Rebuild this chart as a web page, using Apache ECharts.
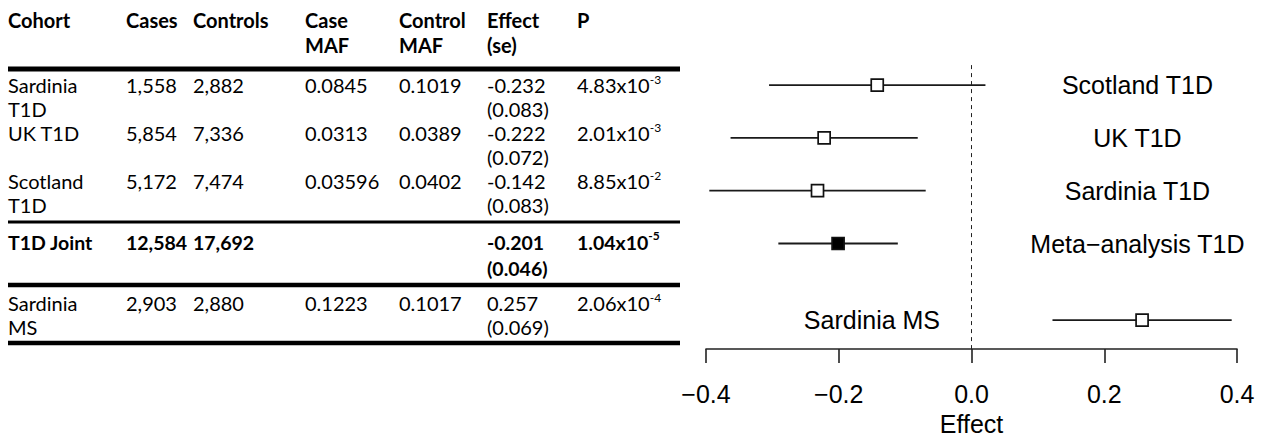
<!DOCTYPE html>
<html>
<head>
<meta charset="utf-8">
<script src="https://cdn.jsdelivr.net/npm/echarts@6/dist/echarts.min.js"></script>
<style>
html,body{margin:0;padding:0;background:#fff;}
#chart{width:1275px;height:441px;}
</style>
</head>
<body>
<div id="chart"></div>
<script>
// ---------- table data ----------
const tableHeader = ['Cohort', 'Cases', 'Controls', 'Case\nMAF', 'Control\nMAF', 'Effect\n(se)', 'P'];
const tableCohort = ['Sardinia\nT1D', 'UK T1D', 'Scotland\nT1D', 'T1D Joint', 'Sardinia\nMS'];
const tableCases = ['1,558', '5,854', '5,172', '12,584', '2,903'];
const tableControls = ['2,882', '7,336', '7,474', '17,692', '2,880'];
const tableCaseMAF = ['0.0845', '0.0313', '0.03596', '', '0.1223'];
const tableControlMAF = ['0.1019', '0.0389', '0.0402', '', '0.1017'];
const tableEffect = [-0.232, -0.222, -0.142, -0.201, 0.257];
const tableSE = [0.083, 0.072, 0.083, 0.046, 0.069];
const tablePMantissa = ['4.83', '2.01', '8.85', '1.04', '2.06'];
const tablePExponent = ['-3', '-3', '-2', '-5', '-4'];
const tableBold = [false, false, false, true, false];

// ---------- forest plot data ----------
const forestLabels = ['Scotland T1D', 'UK T1D', 'Sardinia T1D', 'Meta\u2212analysis T1D', 'Sardinia MS'];
const forestEffect = [-0.142, -0.222, -0.232, -0.201, 0.257];
const forestLower = [-0.305, -0.363, -0.395, -0.291, 0.122];
const forestUpper = [0.021, -0.081, -0.069, -0.111, 0.392];
const forestFilled = [0, 0, 0, 1, 0];
const forestRow = [5, 4, 3, 2, 0.55];
const forestLabelX = [0.25, 0.25, 0.25, 0.25, -0.15];
const xTicks = [-0.4, -0.2, 0.0, 0.2, 0.4];

// ---------- table drawing (graphic text) ----------
const TF = 'Lato, "Open Sans", sans-serif';
const FS = 20;
const colX = [8, 126, 193, 305, 399, 487, 577];
const rowTop = [73, 121, 169, 229, 291];
const rules = [[69, 5], [222, 3], [285, 4.5], [343, 4.5]];
const graphics = [];

tableHeader.forEach((h, i) => {
  graphics.push({type: 'text', x: colX[i], y: 7, style: {text: h, fill: '#000', font: 'bold ' + FS + 'px ' + TF, lineHeight: 25, verticalAlign: 'top'}});
});
rules.forEach(r => {
  graphics.push({type: 'line', shape: {x1: 8, y1: r[0], x2: 680, y2: r[0]}, style: {stroke: '#000', lineWidth: r[1]}});
});
for (let i = 0; i < tableCohort.length; i++) {
  const bold = tableBold[i];
  const w = bold ? 'bold ' : '';
  const fs = bold ? 19.5 : FS;
  const lh = bold ? 26 : 24;
  const cells = [
    tableCohort[i], tableCases[i], tableControls[i], tableCaseMAF[i], tableControlMAF[i],
    tableEffect[i].toFixed(3) + '\n(' + tableSE[i].toFixed(3) + ')'
  ];
  cells.forEach((c, j) => {
    if (!c) return;
    graphics.push({type: 'text', x: colX[j], y: rowTop[i], style: {text: c, fill: '#000', font: w + fs + 'px ' + TF, lineHeight: lh, verticalAlign: 'top'}});
  });
  graphics.push({type: 'text', x: colX[6], y: rowTop[i], style: {
    text: '{m|' + tablePMantissa[i] + 'x10}{s|' + tablePExponent[i] + '}',
    verticalAlign: 'top',
    rich: {
      m: {fill: '#000', fontSize: fs, fontFamily: 'Lato', fontWeight: bold ? 'bold' : 'normal', lineHeight: lh},
      s: {fill: '#000', fontSize: 12, fontFamily: 'Lato', fontWeight: bold ? 'bold' : 'normal', lineHeight: 13, verticalAlign: 'top'}
    }
  }});
}

// ---------- chart ----------
const PF = '"Liberation Sans", Arial, sans-serif';
const forestData = forestEffect.map((e, i) => [e, forestRow[i], forestLower[i], forestUpper[i], forestFilled[i]]);
const labelData = forestLabels.map((l, i) => [forestLabelX[i], forestRow[i], l]);

const chart = echarts.init(document.getElementById('chart'), null, {renderer: 'svg'});
chart.setOption({
  animation: false,
  backgroundColor: '#fff',
  grid: {left: 706, right: 38, top: 64, bottom: 91},
  xAxis: {
    type: 'value', min: xTicks[0], max: xTicks[xTicks.length - 1], interval: 0.2,
    splitLine: {show: false},
    axisLine: {show: true, lineStyle: {color: '#222', width: 1.6}},
    axisTick: {show: true, length: 14, lineStyle: {color: '#222', width: 1.6}},
    axisLabel: {
      color: '#000', fontSize: 25, fontFamily: PF, margin: 32,
      formatter: v => v.toFixed(1).replace('-', '\u2212')
    },
    name: 'Effect', nameLocation: 'middle', nameGap: 61,
    nameTextStyle: {color: '#000', fontSize: 25, fontFamily: PF}
  },
  yAxis: {type: 'value', min: 0, max: 5.4, show: false},
  graphic: graphics,
  series: [
    {
      type: 'custom',
      data: forestData,
      encode: {x: 0, y: 1},
      renderItem: (params, api) => {
        const y = api.value(1);
        const a = api.coord([api.value(2), y]);
        const b = api.coord([api.value(3), y]);
        const c = api.coord([api.value(0), y]);
        const s = 12;
        return {type: 'group', children: [
          {type: 'line', shape: {x1: a[0], y1: a[1], x2: b[0], y2: b[1]}, style: {stroke: '#1a1a1a', lineWidth: 1.8}},
          {type: 'rect', shape: {x: c[0] - s / 2, y: c[1] - s / 2, width: s, height: s},
           style: {fill: api.value(4) ? '#000' : '#fff', stroke: '#111', lineWidth: 1.7}}
        ]};
      },
      markLine: {
        silent: true, symbol: 'none', label: {show: false},
        lineStyle: {type: [4, 4], color: '#222', width: 1},
        data: [{xAxis: 0}]
      }
    },
    {
      type: 'scatter',
      data: labelData,
      symbolSize: 0,
      itemStyle: {opacity: 1},
      encode: {x: 0, y: 1},
      label: {
        show: true, position: 'inside', color: '#000', fontSize: 25, fontFamily: PF,
        textBorderWidth: 0, textShadowBlur: 0, opacity: 1,
        formatter: p => p.value[2]
      }
    }
  ]
});
</script>
</body>
</html>
